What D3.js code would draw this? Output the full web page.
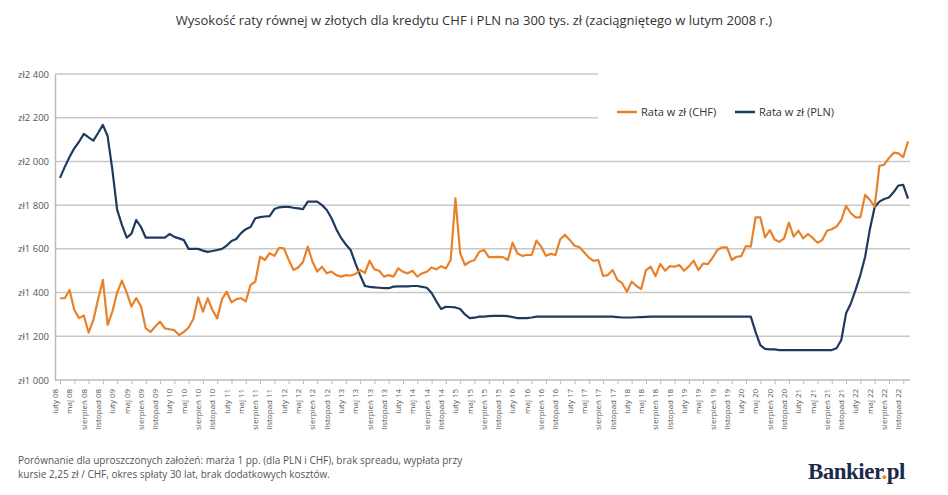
<!DOCTYPE html>
<html><head><meta charset="utf-8">
<script src="https://cdn.jsdelivr.net/npm/d3@7"></script>
<style>body{margin:0;background:#fff}svg{font-family:"Open Sans",Roboto,sans-serif}</style>
</head><body><svg id="c" width="948" height="495"></svg>
<script>
const monthNames = ["luty","maj","sierpień","listopad"];
const yTicks = [1000,1200,1400,1600,1800,2000,2200,2400];
const chf = [1374,1374,1412,1320,1283,1295,1217,1275,1370,1458,1252,1313,1400,1455,1400,1336,1375,1336,1236,1220,
1245,1267,1236,1232,1228,1206,1220,1240,1280,1378,1313,1374,1320,1282,1370,1404,1355,1370,1374,1360,
1435,1450,1564,1549,1580,1568,1605,1602,1550,1503,1515,1540,1610,1541,1496,1518,1488,1496,1480,1473,
1480,1478,1485,1503,1490,1546,1506,1500,1473,1480,1473,1511,1495,1488,1500,1473,1488,1495,1515,1506,
1521,1510,1549,1831,1580,1526,1541,1549,1587,1595,1562,1562,1563,1562,1549,1628,1580,1568,1572,1572,
1638,1610,1568,1577,1572,1644,1664,1641,1614,1608,1585,1560,1545,1549,1476,1480,1503,1458,1443,1404,
1450,1430,1416,1503,1518,1475,1531,1500,1521,1518,1526,1500,1520,1546,1503,1533,1530,1560,1595,1607,
1607,1549,1564,1567,1613,1610,1744,1744,1653,1686,1643,1632,1648,1720,1656,1683,1648,1668,1650,1628,
1640,1683,1690,1702,1732,1797,1763,1744,1744,1847,1824,1793,1980,1985,2015,2040,2037,2020,2091];
const pln = [1925,1975,2020,2060,2090,2126,2110,2095,2130,2167,2115,1960,1778,1710,1651,1670,1732,1700,1651,1651,
1651,1651,1651,1668,1655,1648,1640,1600,1600,1600,1592,1586,1590,1595,1600,1615,1636,1645,1672,1690,
1700,1740,1745,1748,1750,1782,1790,1792,1792,1788,1785,1782,1816,1816,1816,1800,1778,1740,1690,1650,
1620,1595,1535,1480,1430,1426,1424,1422,1420,1420,1427,1428,1428,1428,1430,1430,1426,1422,1398,1360,
1325,1335,1334,1332,1325,1300,1283,1285,1290,1290,1292,1293,1293,1293,1292,1288,1283,1283,1283,1286,
1290,1290,1290,1290,1290,1290,1290,1290,1290,1290,1290,1290,1290,1290,1290,1290,1290,1288,1286,1286,
1286,1287,1288,1289,1290,1290,1290,1290,1290,1290,1290,1290,1290,1290,1290,1290,1290,1290,1290,1290,
1290,1290,1290,1290,1290,1290,1220,1160,1142,1140,1140,1137,1137,1137,1137,1137,1137,1137,1137,1137,
1137,1137,1137,1145,1183,1305,1350,1412,1480,1564,1690,1790,1816,1828,1835,1860,1890,1893,1830];
const tickLabels = [];
for (let y=8;y<=22;y++) for (let q=0;q<4;q++) tickLabels.push({i:(y-8)*12+q*3, t:monthNames[q]+" "+String(y).padStart(2,"0")});

const svg = d3.select("#c");
const x = d3.scaleLinear().domain([0,178]).range([60,908]);
const y = d3.scaleLinear().domain([1000,2400]).range([380,74]);

svg.append("text").attr("x",474).attr("y",25).attr("text-anchor","middle").attr("font-size",13).attr("fill","#333")
 .text("Wysokość raty równej w złotych dla kredytu CHF i PLN na 300 tys. zł (zaciągniętego w lutym 2008 r.)");

svg.append("g").selectAll("line").data(yTicks.slice(1)).join("line")
 .attr("x1",55).attr("x2",910).attr("y1",d=>y(d)).attr("y2",d=>y(d)).attr("stroke","#c8c8c8").attr("stroke-width",1.5);
// legend box covering top gridlines
svg.append("rect").attr("x",598).attr("y",66).attr("width",322).attr("height",72).attr("fill","#fff");

const yAx = svg.append("g").attr("transform","translate(55,0)").call(d3.axisLeft(y).tickValues(yTicks).tickSize(0).tickPadding(6)
 .tickFormat(d=>"zł"+d3.format(",")(d).replace(",","\u00a0")));
yAx.select(".domain").attr("stroke","#bbb").attr("stroke-width",1.5);
yAx.selectAll("text").attr("font-size",9.5).attr("fill","#555").attr("font-family","Open Sans, sans-serif");

const xAx = svg.append("g").attr("transform","translate(0,380)").call(d3.axisBottom(x).tickValues(tickLabels.map(d=>d.i)).tickSize(4)
 .tickFormat((d,k)=>tickLabels[k].t));
xAx.select(".domain").attr("stroke","#bbb").attr("stroke-width",1.5).attr("d","M55,0H910");
xAx.selectAll("line").attr("stroke","#bbb");
xAx.selectAll("text").attr("font-size",8).attr("fill","#555").attr("font-family","Open Sans, sans-serif")
 .attr("transform","rotate(-90)").attr("text-anchor","end").attr("dx","-0.6em").attr("dy","-0.3em").attr("y",0).attr("x",-4);

const line = d3.line().x((d,i)=>x(i)).y(d=>y(d));
svg.append("path").datum(pln).attr("d",line).attr("fill","none").attr("stroke","#1f3a5f").attr("stroke-width",2.2).attr("stroke-linejoin","round");
svg.append("path").datum(chf).attr("d",line).attr("fill","none").attr("stroke","#e8822a").attr("stroke-width",2.2).attr("stroke-linejoin","round");

const leg=[{t:"Rata w zł (CHF)",c:"#e8822a",x:617},{t:"Rata w zł (PLN)",c:"#1f3a5f",x:735}];
leg.forEach(l=>{
 svg.append("line").attr("x1",l.x).attr("x2",l.x+20).attr("y1",112).attr("y2",112).attr("stroke",l.c).attr("stroke-width",2.5);
 svg.append("text").attr("x",l.x+24).attr("y",116).attr("font-size",11).attr("fill","#333").text(l.t);
});

svg.append("text").attr("x",18).attr("y",464).attr("font-size",10).attr("fill","#555")
 .text("Porównanie dla uproszczonych założeń: marża 1 pp. (dla PLN i CHF), brak spreadu, wypłata przy");
svg.append("text").attr("x",18).attr("y",478).attr("font-size",10).attr("fill","#555")
 .text("kursie 2,25 zł / CHF, okres spłaty 30 lat, brak dodatkowych kosztów.");
const b=svg.append("text").attr("x",905).attr("y",479).attr("text-anchor","end").attr("font-size",23).attr("font-weight","bold")
 .attr("font-family","Liberation Serif, DejaVu Serif, serif").attr("fill","#1b2a4a").attr("letter-spacing",-0.5);
b.append("tspan").text("Bankier");
b.append("tspan").attr("fill","#e8822a").text(".");
b.append("tspan").text("pl");
</script></body></html>
